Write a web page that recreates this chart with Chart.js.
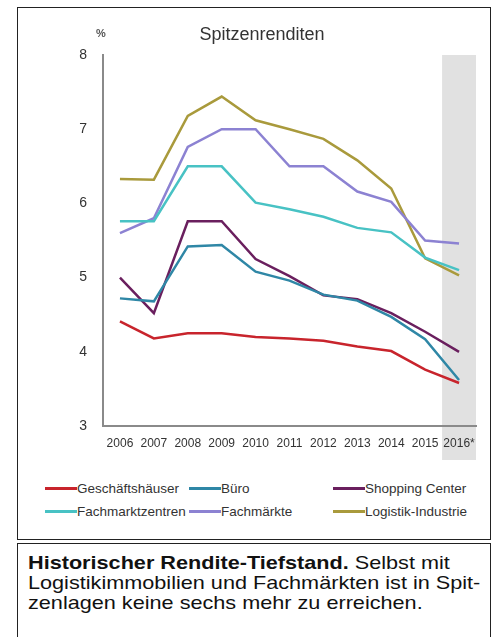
<!DOCTYPE html>
<html lang="de">
<head>
<meta charset="UTF-8">
<title>Spitzenrenditen</title>
<script src="https://cdn.jsdelivr.net/npm/chart.js"></script>
<style>
    body {
        margin: 0;
        width: 496px;
        height: 637px;
        overflow: hidden;
        background: #fff;
        font-family: 'Liberation Sans', Arial, sans-serif;
        position: relative;
    }
    .chart-box {
        position: absolute;
        left: 17px;
        top: 7px;
        width: 472px;
        height: 531px;
        border: 1.5px solid #222;
    }
    #chart {
        position: absolute;
        left: 0;
        top: 0;
    }
    .titel {
        position: absolute;
        left: 162px;
        width: 200px;
        top: 24px;
        text-align: center;
        font-size: 18px;
        color: #333;
    }
    .einheit {
        position: absolute;
        left: 96px;
        top: 27px;
        font-size: 11px;
        font-weight: bold;
        color: #555;
    }
    .legende {
        position: absolute;
        left: 45px;
        top: 481px;
        font-size: 13.5px;
        color: #333;
    }
    .legende .item {
        position: absolute;
        white-space: nowrap;
        display: flex;
        align-items: center;
    }
    .legende .strich {
        display: inline-block;
        width: 32px;
        height: 3px;
    }
    .caption {
        position: absolute;
        left: 17px;
        top: 543px;
        width: 472px;
        height: 110px;
        border: 1.5px solid #222;
    }
    .caption p {
        margin: 0;
        position: absolute;
        left: 10px;
        top: 9px;
        font-size: 18.5px;
        line-height: 20px;
        color: #111;
        white-space: nowrap;
        transform: scaleX(1.17);
        transform-origin: left top;
    }
</style>
</head>
<body>
<div class="chart-box"></div>
<canvas id="chart" width="496" height="470"></canvas>
<div class="titel">Spitzenrenditen</div>
<div class="einheit">%</div>
<div class="legende" id="legende"></div>
<div class="caption">
    <p><b>Historischer Rendite-Tiefstand.</b> Selbst mit<br>Logistikimmobilien und Fachmärkten ist in Spit-<br>zenlagen keine sechs mehr zu erreichen.</p>
</div>
<script>
    const jahre = ['2006', '2007', '2008', '2009', '2010', '2011', '2012', '2013', '2014', '2015', '2016*'];

    const geschaeftshaeuser = [4.41, 4.18, 4.25, 4.25, 4.20, 4.18, 4.15, 4.07, 4.01, 3.76, 3.58];
    const buero = [4.72, 4.68, 5.42, 5.44, 5.08, 4.96, 4.77, 4.69, 4.47, 4.17, 3.62];
    const shoppingCenter = [5.00, 4.52, 5.76, 5.76, 5.25, 5.02, 4.76, 4.71, 4.52, 4.27, 4.00];
    const fachmarktzentren = [5.76, 5.76, 6.50, 6.50, 6.01, 5.92, 5.82, 5.67, 5.61, 5.27, 5.10];
    const fachmaerkte = [5.60, 5.80, 6.76, 7.00, 7.00, 6.50, 6.50, 6.16, 6.02, 5.50, 5.46];
    const logistik = [6.33, 6.32, 7.18, 7.44, 7.12, 7.00, 6.87, 6.58, 6.20, 5.26, 5.03];

    const yTicks = [3, 4, 5, 6, 7, 8];

    const serien = [
        { name: 'Geschäftshäuser', werte: geschaeftshaeuser, farbe: '#c8242c' },
        { name: 'Büro', werte: buero, farbe: '#2f87a6' },
        { name: 'Shopping Center', werte: shoppingCenter, farbe: '#6a1f5e' },
        { name: 'Fachmarktzentren', werte: fachmarktzentren, farbe: '#48c2c4' },
        { name: 'Fachmärkte', werte: fachmaerkte, farbe: '#8c82d2' },
        { name: 'Logistik-Industrie', werte: logistik, farbe: '#a99a3c' }
    ];

    // Legende (zwei Zeilen, drei Spalten)
    const spalten = [0, 144, 288];
    const legende = document.getElementById('legende');
    serien.forEach(function (s, i) {
        const item = document.createElement('div');
        item.className = 'item';
        item.style.left = spalten[i % 3] + 'px';
        item.style.top = (Math.floor(i / 3) * 23) + 'px';
        item.innerHTML = '<span class="strich" style="background:' + s.farbe + '"></span>' + s.name;
        legende.appendChild(item);
    });

    // grauer Balken hinter 2016*
    const prognoseBand = {
        id: 'prognoseBand',
        beforeDraw(chart) {
            const x = chart.scales.x;
            const ctx = chart.ctx;
            const i = jahre.length - 1;
            const breite = x.getPixelForValue(1) - x.getPixelForValue(0);
            const mitte = x.getPixelForValue(i);
            ctx.save();
            ctx.fillStyle = '#e1e1e1';
            ctx.fillRect(mitte - breite / 2, chart.chartArea.top, breite, x.bottom - chart.chartArea.top);
            ctx.restore();
        }
    };

    new Chart(document.getElementById('chart'), {
        type: 'line',
        data: {
            labels: jahre,
            datasets: serien.map(function (s) {
                return {
                    label: s.name,
                    data: s.werte,
                    borderColor: s.farbe,
                    backgroundColor: s.farbe,
                    borderWidth: 2.5,
                    pointRadius: 0,
                    tension: 0,
                    fill: false
                };
            })
        },
        options: {
            responsive: false,
            animation: false,
            devicePixelRatio: 1,
            layout: {
                padding: { left: 63, top: 55, right: 20, bottom: 10 }
            },
            plugins: {
                legend: { display: false },
                tooltip: { enabled: false }
            },
            scales: {
                x: {
                    offset: true,
                    grid: { display: false, drawTicks: false },
                    border: { display: true, color: '#8a8a8a', width: 2 },
                    ticks: {
                        color: '#333',
                        font: { family: 'Liberation Sans', size: 12 },
                        padding: 10,
                        maxRotation: 0,
                        autoSkip: false
                    },
                    afterFit: function (s) { s.height = 34; }
                },
                y: {
                    min: 3,
                    max: 8,
                    grid: { display: false, drawTicks: false },
                    border: { display: true, color: '#8a8a8a', width: 2 },
                    ticks: {
                        stepSize: 1,
                        color: '#333',
                        padding: 16,
                        font: { family: 'Liberation Sans', size: 14 }
                    },
                    afterBuildTicks: function (s) {
                        s.ticks = yTicks.map(function (v) { return { value: v }; });
                    },
                    afterFit: function (s) { s.width = 40; }
                }
            }
        },
        plugins: [prognoseBand]
    });
</script>
</body>
</html>
